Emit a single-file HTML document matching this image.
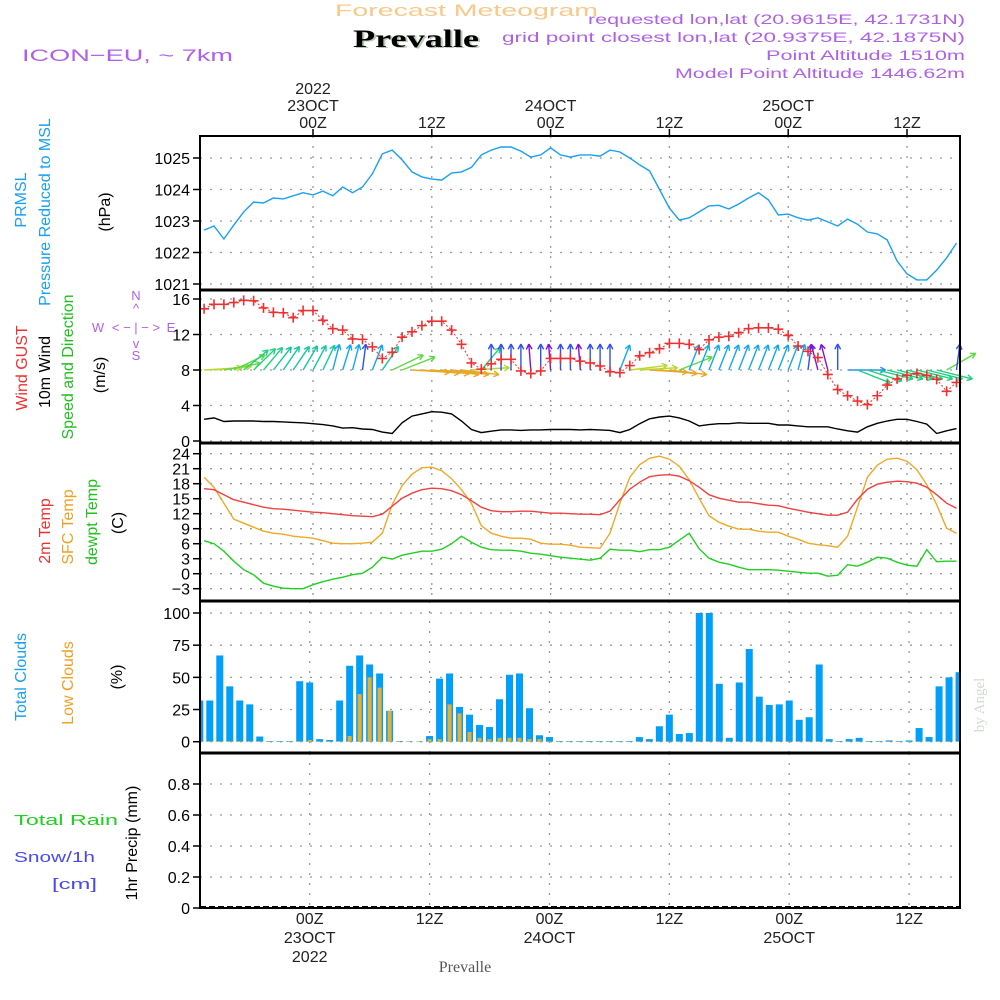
<!DOCTYPE html>
<html><head><meta charset="utf-8"><title>Forecast Meteogram Prevalle</title>
<style>
html,body{margin:0;padding:0;background:#fff;}
svg{display:block;font-family:"Liberation Sans",sans-serif;}
</style></head>
<body>
<svg id="chart" width="1000" height="1000" viewBox="0 0 1000 1000" xmlns="http://www.w3.org/2000/svg">
<g id="header">
<text x="335" y="16" font-size="17" fill="#f7c98a" textLength="263" lengthAdjust="spacingAndGlyphs">Forecast Meteogram</text>
<text x="355" y="48" font-size="25" font-weight="bold" font-family="Liberation Serif,serif" fill="#b8c8b8" textLength="126" lengthAdjust="spacingAndGlyphs">Prevalle</text>
<text x="353" y="47" font-size="25" font-weight="bold" font-family="Liberation Serif,serif" fill="#000" textLength="126" lengthAdjust="spacingAndGlyphs">Prevalle</text>
<text x="22" y="61" font-size="17" fill="#b060e8" textLength="211" lengthAdjust="spacingAndGlyphs">ICON−EU, ~ 7km</text>
<text x="965" y="24" font-size="14" fill="#b060e8" text-anchor="end" textLength="377" lengthAdjust="spacingAndGlyphs">requested lon,lat (20.9615E, 42.1731N)</text>
<text x="965" y="42" font-size="14" fill="#b060e8" text-anchor="end" textLength="463" lengthAdjust="spacingAndGlyphs">grid point closest lon,lat (20.9375E, 42.1875N)</text>
<text x="965" y="60" font-size="14" fill="#b060e8" text-anchor="end" textLength="199" lengthAdjust="spacingAndGlyphs">Point Altitude 1510m</text>
<text x="965" y="78" font-size="14" fill="#b060e8" text-anchor="end" textLength="290" lengthAdjust="spacingAndGlyphs">Model Point Altitude 1446.62m</text>
</g>
<g id="grid"></g>
<g id="marks"></g>
<g id="frames"></g>
<g id="labels" font-size="16" fill="#000"></g>
<g id="side">
<text transform="translate(26,200) rotate(-90)" text-anchor="middle" font-size="16" fill="#1aa0f0">PRMSL</text>
<text transform="translate(50,212) rotate(-90)" text-anchor="middle" font-size="16" fill="#1aa0f0">Pressure Reduced to MSL</text>
<text transform="translate(110,212) rotate(-90)" text-anchor="middle" font-size="16" fill="#000">(hPa)</text>
<text transform="translate(27,368) rotate(-90)" text-anchor="middle" font-size="16" fill="#f03030">Wind GUST</text>
<text transform="translate(50,372) rotate(-90)" text-anchor="middle" font-size="16" fill="#000">10m Wind</text>
<text transform="translate(73,367) rotate(-90)" text-anchor="middle" font-size="16" fill="#20c020">Speed and Direction</text>
<text transform="translate(105,375) rotate(-90)" text-anchor="middle" font-size="16" fill="#000">(m/s)</text>
<text transform="translate(50,531) rotate(-90)" text-anchor="middle" font-size="16" fill="#f03030">2m Temp</text>
<text transform="translate(73,527) rotate(-90)" text-anchor="middle" font-size="16" fill="#f0a020">SFC Temp</text>
<text transform="translate(97,522) rotate(-90)" text-anchor="middle" font-size="16" fill="#20c020">dewpt Temp</text>
<text transform="translate(123,523) rotate(-90)" text-anchor="middle" font-size="16" fill="#000">(C)</text>
<text transform="translate(26,677) rotate(-90)" text-anchor="middle" font-size="16" fill="#1aa0f0">Total Clouds</text>
<text transform="translate(73,683) rotate(-90)" text-anchor="middle" font-size="16" fill="#f0a020">Low Clouds</text>
<text transform="translate(122,677) rotate(-90)" text-anchor="middle" font-size="16" fill="#000">(%)</text>
<text transform="translate(137,843) rotate(-90)" text-anchor="middle" font-size="16" fill="#000">1hr Precip (mm)</text>
<text x="14" y="825" font-size="15" fill="#20d020" textLength="104" lengthAdjust="spacingAndGlyphs">Total  Rain</text>
<text x="14" y="862" font-size="15" fill="#4848f0" textLength="81" lengthAdjust="spacingAndGlyphs">Snow/1h</text>
<text x="52" y="889" font-size="15" fill="#4848f0" textLength="45" lengthAdjust="spacingAndGlyphs">[cm]</text>
<g fill="#b060e8" font-size="13" text-anchor="middle">
<text x="136" y="300">N</text><text x="136" y="313">^</text>
<text x="98" y="332">W</text><text x="171" y="332">E</text>
<text x="136" y="332">&lt; − | − &gt;</text>
<text x="136" y="348">v</text><text x="136" y="360">S</text>
</g>
<text transform="translate(984,705) rotate(-90)" text-anchor="middle" font-size="15" font-family="Liberation Serif,serif" fill="#d0dcd0">by Angel</text>
<text x="465" y="972" text-anchor="middle" font-size="16" font-family="Liberation Serif,serif" fill="#555">Prevalle</text>
</g>
</svg>
<script>
// hours relative to 00Z 23 OCT 2022
const hours = [-11,-10,-9,-8,-7,-6,-5,-4,-3,-2,-1,0,1,2,3,4,5,6,7,8,9,10,11,12,13,14,15,16,17,18,19,20,21,22,23,24,25,26,27,28,29,30,31,32,33,34,35,36,37,38,39,40,41,42,43,44,45,46,47,48,49,50,51,52,53,54,55,56,57,58,59,60,61,62,63,64,65];
const pressure = [1022.71,1022.84,1022.43,1022.87,1023.29,1023.6,1023.57,1023.73,1023.7,1023.8,1023.9,1023.83,1023.95,1023.8,1024.08,1023.9,1024.08,1024.5,1025.13,1025.25,1024.94,1024.56,1024.4,1024.33,1024.3,1024.52,1024.56,1024.7,1025.1,1025.25,1025.35,1025.35,1025.22,1025.03,1025.1,1025.32,1025.1,1025.03,1025.1,1025.1,1025.06,1025.25,1025.19,1025.0,1024.78,1024.59,1024.0,1023.41,1023.03,1023.1,1023.29,1023.48,1023.5,1023.38,1023.54,1023.73,1023.9,1023.67,1023.19,1023.22,1023.1,1023.03,1023.1,1022.97,1022.84,1023.06,1022.9,1022.65,1022.59,1022.4,1021.73,1021.32,1021.13,1021.13,1021.44,1021.83,1022.3];
const windGust = [14.9,15.4,15.4,15.6,15.85,15.8,15.0,14.5,14.45,13.9,14.7,14.7,13.6,12.65,12.5,11.5,11.45,10.6,9.3,10.0,11.7,12.3,13.0,13.5,13.5,12.5,10.9,8.8,8.1,8.7,9.2,9.2,7.9,7.6,7.9,9.3,9.3,9.3,9.0,8.8,8.45,7.8,7.7,8.5,9.6,9.95,10.4,11.0,11.0,10.9,10.3,11.4,11.7,11.8,12.2,12.65,12.75,12.75,12.6,11.9,10.7,10.1,9.4,7.5,5.8,5.1,4.5,4.1,5.1,6.3,7.0,7.4,7.6,7.4,6.95,5.6,6.6];
const wind10m = [2.45,2.6,2.2,2.25,2.25,2.25,2.2,2.2,2.15,2.1,2.05,1.95,1.85,1.7,1.45,1.5,1.35,1.3,1.0,0.85,2.05,2.8,3.05,3.3,3.25,3.05,2.25,1.3,0.95,1.1,1.25,1.25,1.2,1.25,1.25,1.3,1.3,1.3,1.25,1.3,1.25,1.2,0.95,1.3,1.95,2.5,2.7,2.8,2.6,2.25,1.7,1.85,1.95,1.95,2.05,2.0,2.0,2.0,1.8,1.8,1.7,1.6,1.6,1.6,1.35,1.15,1.0,1.6,2.0,2.25,2.45,2.45,2.2,1.9,0.85,1.15,1.4];
const windDir = [85,82,75,55,40,35,30,28,25,25,22,20,18,10,12,10,5,15,25,55,60,95,97,98,100,100,100,85,30,0,0,0,0,-3,0,-3,0,0,-3,0,0,0,15,80,85,95,98,100,60,15,15,15,15,15,15,15,15,15,15,15,10,5,-10,-10,0,90,120,115,110,110,110,110,110,110,110,50,5];
const temp2m = [17.0,16.8,15.8,14.8,14.3,13.8,13.3,13.0,12.9,12.7,12.5,12.3,12.2,12.0,11.8,11.6,11.5,11.4,11.9,13.5,15.1,16.1,16.8,17.1,17.0,16.6,15.8,14.6,13.3,12.6,12.4,12.4,12.5,12.5,12.3,12.1,12.1,12.0,11.9,11.9,11.8,12.5,14.8,16.9,18.3,19.4,19.7,19.8,19.5,18.6,17.3,15.8,15.1,14.7,14.3,14.3,14.0,13.7,13.6,13.1,12.7,12.3,12.0,11.7,11.7,12.3,14.9,16.9,17.9,18.3,18.5,18.4,18.1,17.3,15.8,14.1,13.1];
const tempSfc = [19.3,17.3,14.1,10.9,10.1,9.3,8.5,8.1,7.9,7.5,7.3,7.1,6.6,6.1,6.0,6.0,6.1,6.3,8.1,13.8,17.6,19.9,21.2,21.3,20.6,19.0,16.8,14.1,9.6,8.1,7.5,7.1,7.1,6.9,6.1,5.9,5.9,5.7,5.3,5.2,5.1,8.1,14.1,19.3,21.8,23.1,23.5,22.9,21.5,18.8,15.1,11.6,10.3,9.5,8.9,8.9,8.5,8.3,8.3,7.5,6.9,6.1,5.8,5.6,5.3,7.5,13.3,19.3,21.7,22.9,23.1,22.5,20.8,17.8,13.8,9.1,8.1];
const dewpt = [6.6,6.0,4.5,2.5,0.8,-0.2,-1.9,-2.5,-2.9,-3.0,-3.0,-2.2,-1.6,-1.1,-0.7,-0.2,0.1,1.3,3.3,2.9,3.7,4.1,4.5,4.5,4.9,6.0,7.5,6.3,5.3,4.8,4.7,4.7,4.5,4.1,3.9,3.6,3.3,3.1,2.9,2.7,3.1,4.9,4.7,4.7,4.4,4.8,4.8,5.3,6.7,8.1,5.0,3.1,2.3,1.9,1.3,0.8,0.8,0.8,0.7,0.5,0.3,0.1,0.1,-0.5,-0.3,1.8,1.5,2.3,3.3,3.1,2.3,1.7,1.5,4.8,2.4,2.5,2.5];
const totalClouds = [32,32,67,43,32,29,4,0.5,0.5,0.5,47,46,2,1.3,32,59,67,60,53,24,0.5,0.3,0.3,4.4,49,53,27,21,13,11.4,33,52,53,26,5,3.6,0.5,0.5,0.5,0.5,0.5,0.5,0.5,0.5,3.6,2,12,21,6,6.7,100,100,45,3,46,72,35,28.5,29,32,17,19,60,2,0.5,2,3,0.5,0.5,1,0.5,1,10.6,3.6,43,50,54];
const lowClouds = [0.5,0.5,0.5,0.5,0.5,0.5,0.5,0.3,0.3,0.3,0.5,1.3,0.3,0.3,0.5,4.4,37,50,42,24,0.3,0.3,0.3,2,2,29,22,7.5,3,2,3,3,3,2,2,0.3,0.3,0.3,0.3,0.3,0.3,0.3,0.3,0.3,0.3,0.3,0.3,0.3,0.3,0.3,0.3,0.3,0.3,0.3,0.3,0.3,0.3,0.3,0.3,0.3,0.3,0.3,0.3,0.3,0.3,0.3,0.3,0.3,0.3,0.3,0.3,0.3,0.3,0.3,0.3,0.3,0.3];
const precip = [0,0,0,0,0,0,0,0,0,0,0,0,0,0,0,0,0,0,0,0,0,0,0,0,0,0,0,0,0,0,0,0,0,0,0,0,0,0,0,0,0,0,0,0,0,0,0,0,0,0,0,0,0,0,0,0,0,0,0,0,0,0,0,0,0,0,0,0,0,0,0,0,0,0,0,0,0];
const timeTickHours = [0,12,24,36,48,60];
const timeTickTop = [["2022","23OCT","00Z"],["","","12Z"],["","24OCT","00Z"],["","","12Z"],["","25OCT","00Z"],["","","12Z"]];
const timeTickBottom = [["00Z","23OCT","2022"],["12Z","",""],["00Z","24OCT",""],["12Z","",""],["00Z","25OCT",""],["12Z","",""]];
const pressureTicks = [1021,1022,1023,1024,1025];
const windTicks = [0,4,8,12,16];
const tempTicks = [-3,0,3,6,9,12,15,18,21,24];
const cloudTicks = [0,25,50,75,100];
const precipTicks = [0,0.2,0.4,0.6,0.8];

const NS='http://www.w3.org/2000/svg';
const X0=200,X1=960;
const x=h=>313+9.9*h;          // upper panels
const xc=h=>309.7+9.99*h;      // clouds/precip panels
const yP=v=>158+(1025-v)*31.5;
const yW=v=>441-v*8.875;
const yT=v=>573.7-5*v;
const yC=v=>741.7-1.287*v;
const yR=v=>908-v*155;
const panels=[[136,290],[290,443],[443,601],[601,753],[753,908]];
function mk(tag,attrs,parent){const e=document.createElementNS(NS,tag);for(const k in attrs)e.setAttribute(k,attrs[k]);parent.appendChild(e);return e;}
const grid=document.getElementById('grid'),marks=document.getElementById('marks'),frames=document.getElementById('frames'),labels=document.getElementById('labels');
const gstyle={stroke:'#999','stroke-width':1.3,'stroke-dasharray':'2 8'};
panels.forEach((p,i)=>{
  const fx=i>=3?xc:x;
  timeTickHours.forEach(h=>{
    const l=mk('line',Object.assign({x1:fx(h),x2:fx(h),y1:p[0],y2:p[1]},gstyle),grid);
    
    
  });
});
function yAxis(ticks,fy,fmt,name){
  ticks.forEach(v=>{
    const y=fy(v);
    const g=mk('line',Object.assign({x1:X0,x2:X1,y1:y,y2:y},gstyle),grid);
    
    
    mk('line',{x1:X0-7,x2:X0,y1:y,y2:y,stroke:'#000','stroke-width':1.5},frames);
    const t=mk('text',{x:X0-10,y:y+6,'text-anchor':'end'},labels);
    t.textContent=fmt(v);
    
    
  });
}
yAxis(pressureTicks,yP,v=>String(v),'pressure');
yAxis(windTicks,yW,v=>String(v),'wind');
yAxis(tempTicks,yT,v=>v<0?'−'+(-v):String(v),'temp');
yAxis(cloudTicks,yC,v=>String(v),'cloud');
yAxis(precipTicks,yR,v=>v===0?'0':v.toFixed(1),'precip');
function line(arr,fy,color,name,w){
  const pts=hours.map((h,i)=>x(h).toFixed(1)+','+fy(arr[i]).toFixed(1)).join(' ');
  const p=mk('polyline',{points:pts,fill:'none',stroke:color,'stroke-width':w||1.4},marks);
  
  
}
line(pressure,yP,'#1aa0f0','pressure-line');
function dirColor(a){
  if(a>=104)return '#20d080';
  if(a>=95)return '#e8a828';
  if(a>=88)return '#3090f0';
  if(a>=80)return '#b8d830';
  if(a>=50)return '#60d840';
  if(a>=30)return '#20d080';
  if(a>=17)return '#10c8a0';
  if(a>=8)return '#10a8f0';
  if(a>=-1)return '#3050f0';
  return '#8010e0';
}
hours.forEach((h,i)=>{
  const a=windDir[i]*Math.PI/180;
  const x0=x(h),y0=yW(8);
  const x1=x0+Math.sin(a)*38,y1=y0-Math.cos(a)*26;
  const c=dirColor(windDir[i]);
  const g=mk('g',{stroke:c,'stroke-width':1.4,fill:'none'},marks);
  
  
  mk('line',{x1:x0,y1:y0,x2:x1,y2:y1},g);
  const ang=Math.atan2(y1-y0,x1-x0);
  [0.5,-0.5].forEach(d=>{mk('line',{x1:x1,y1:y1,x2:x1-6*Math.cos(ang+d),y2:y1-6*Math.sin(ang+d)},g);});
});
const gp=mk('polyline',{points:hours.map((h,i)=>x(h)+','+yW(windGust[i])).join(' '),fill:'none',stroke:'#f03030','stroke-width':1,'stroke-dasharray':'2 2'},marks);


hours.forEach((h,i)=>{
  const cx=x(h),cy=yW(windGust[i]);
  const p=mk('path',{d:`M${cx-5},${cy}H${cx+5}M${cx},${cy-5}V${cy+5}`,stroke:'#f03030','stroke-width':1.6},marks);
  
  
});
line(wind10m,yW,'#000','wind-10m-line');
line(tempSfc,yT,'#f0a828','sfc-temp-line');
line(temp2m,yT,'#f04040','temp-2m-line');
line(dewpt,yT,'#20d020','dewpt-line');
const cg=mk('g',{'clip-path':'url(#clipC)'},marks);
const defs=mk('defs',{},document.getElementById('chart'));
const cp=mk('clipPath',{id:'clipC'},defs);mk('rect',{x:X0,y:601,width:X1-X0,height:152},cp);
hours.forEach((h,i)=>{
  const cx=xc(h);
  const b=mk('rect',{x:cx-3.5,y:yC(totalClouds[i]),width:7,height:yC(0)-yC(totalClouds[i]),fill:'#009ff8'},cg);
  
  
  const l=mk('rect',{x:cx-2,y:yC(lowClouds[i]),width:4,height:yC(0)-yC(lowClouds[i]),fill:'#e8b030'},cg);
  
  
});
hours.forEach((h,i)=>{
  if(precip[i]>0){
    const b=mk('rect',{x:xc(h)-3.5,y:yR(precip[i]),width:7,height:yR(0)-yR(precip[i]),fill:'#20d020'},marks);
    
    
  }
});
mk('line',{x1:X0,x2:X1,y1:907,y2:907,stroke:'#000','stroke-width':2,'stroke-dasharray':'6 3'},marks);
panels.forEach(p=>{
  const r=mk('rect',{x:X0,y:p[0],width:X1-X0,height:p[1]-p[0],fill:'none',stroke:'#000','stroke-width':2},frames);
  
  
});
[290,443,601,753].forEach(y=>mk('line',{x1:X0,x2:X1,y1:y,y2:y,stroke:'#000','stroke-width':3},frames));
timeTickHours.forEach((h,i)=>{
  mk('line',{x1:x(h),x2:x(h),y1:129,y2:136,stroke:'#000','stroke-width':1.5},frames);
  timeTickTop[i].forEach((s,j)=>{ if(!s)return;
    const t=mk('text',{x:x(h),y:94+j*17,'text-anchor':'middle','font-size':16,fill:'#222'},labels);
    t.textContent=s;
    
    
  });
  timeTickBottom[i].forEach((s,j)=>{ if(!s)return;
    const t=mk('text',{x:xc(h),y:924+j*19,'text-anchor':'middle','font-size':16,fill:'#222'},labels);
    t.textContent=s;
    
    
  });
});
</script>
</body></html>
